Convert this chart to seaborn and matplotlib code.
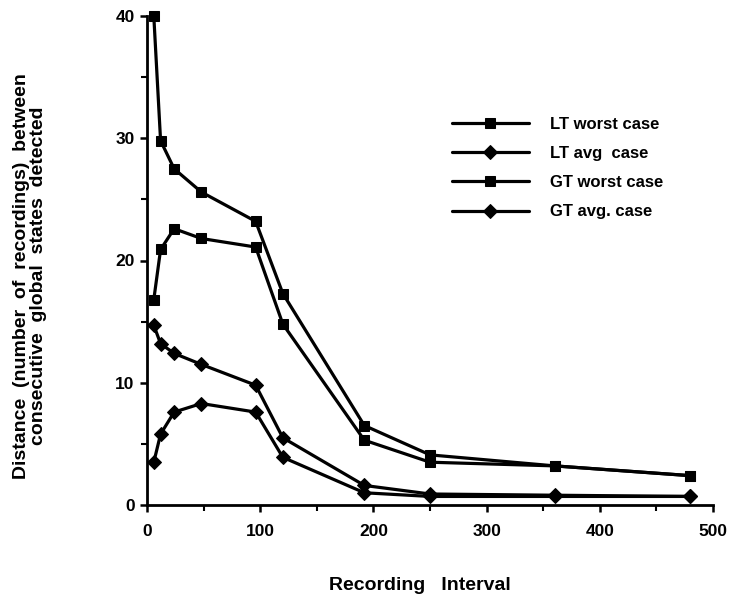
import matplotlib
matplotlib.use("Agg")
import matplotlib.pyplot as plt
import seaborn as sns
import pandas as pd
from matplotlib.ticker import MultipleLocator

intervals = [6, 12, 24, 48, 96, 120, 192, 250, 360, 480]
lt_worst = [40.0, 29.8, 27.5, 25.6, 23.2, 17.3, 6.5, 4.1, 3.2, 2.4]
lt_avg = [14.7, 13.2, 12.4, 11.5, 9.8, 5.5, 1.6, 0.9, 0.8, 0.7]
gt_worst = [16.8, 20.9, 22.6, 21.8, 21.1, 14.8, 5.3, 3.5, 3.2, 2.4]
gt_avg = [3.5, 5.8, 7.6, 8.3, 7.6, 3.9, 1.0, 0.7, 0.7, 0.7]
series_names = ["LT worst case", "LT avg  case", "GT worst case", "GT avg. case"]
series_values = [lt_worst, lt_avg, gt_worst, gt_avg]

rows = []
for name, vals in zip(series_names, series_values):
    for x, y in zip(intervals, vals):
        rows.append({"interval": x, "distance": y, "series": name})
df = pd.DataFrame(rows)

sns.set_style("ticks")
plt.rcParams['font.family'] = ['Liberation Sans', 'DejaVu Sans']
plt.rcParams['font.weight'] = 'bold'
plt.rcParams['text.color'] = 'black'
plt.rcParams['axes.labelcolor'] = 'black'
plt.rcParams['xtick.color'] = 'black'
plt.rcParams['ytick.color'] = 'black'
plt.rcParams['axes.edgecolor'] = 'black'

fig = plt.figure(figsize=(7.3, 6.07), dpi=100)
ax = fig.add_axes([147/730, 1-505/607, (713-147)/730, (505-16)/607])

markers = {series_names[0]: 's', series_names[1]: 'D',
           series_names[2]: 's', series_names[3]: 'D'}
palette = {n: 'black' for n in series_names}
sns.lineplot(data=df, x="interval", y="distance", hue="series", style="series",
             hue_order=series_names, style_order=series_names,
             markers=markers, dashes=False, palette=palette, sort=False,
             linewidth=2.3, markersize=7.5, markeredgecolor='black',
             ax=ax, clip_on=False)

ax.set_xlim(0, 500)
ax.set_ylim(0, 40)
ax.xaxis.set_major_locator(MultipleLocator(100))
ax.xaxis.set_minor_locator(MultipleLocator(50))
ax.yaxis.set_major_locator(MultipleLocator(10))
ax.yaxis.set_minor_locator(MultipleLocator(5))
for s in ['top', 'right']:
    ax.spines[s].set_visible(False)
for s in ['left', 'bottom']:
    ax.spines[s].set_linewidth(2)
ax.tick_params(axis='both', which='major', direction='out', length=5, width=1.8,
               labelsize=12.5, colors='black')
ax.tick_params(axis='both', which='minor', direction='out', length=4, width=1.5)
ax.tick_params(axis='x', which='major', pad=9)
ax.tick_params(axis='y', which='major', pad=4)
for lab in ax.get_xticklabels() + ax.get_yticklabels():
    lab.set_fontweight('bold')
ax.set_xlabel("")
ax.set_ylabel("")

handles, labels = ax.get_legend_handles_labels()
ax.legend(handles, labels, loc='upper left', bbox_to_anchor=(290/566, 1-(102-16)/489),
          frameon=False, handlelength=4.6, handletextpad=1.3, labelspacing=0.85,
          prop={'size': 12, 'weight': 'bold'})

fig.text(30/730, 1-276/607,
         "Distance  (number  of  recordings)  between\nconsecutive  global  states  detected",
         rotation=90, ha='center', va='center', multialignment='center',
         fontsize=14, fontweight='bold', linespacing=1.05)
fig.text(420/730, 1-585/607, "Recording   Interval", ha='center', va='center',
         fontsize=14, fontweight='bold')

fig.savefig("out.png", dpi=100)
